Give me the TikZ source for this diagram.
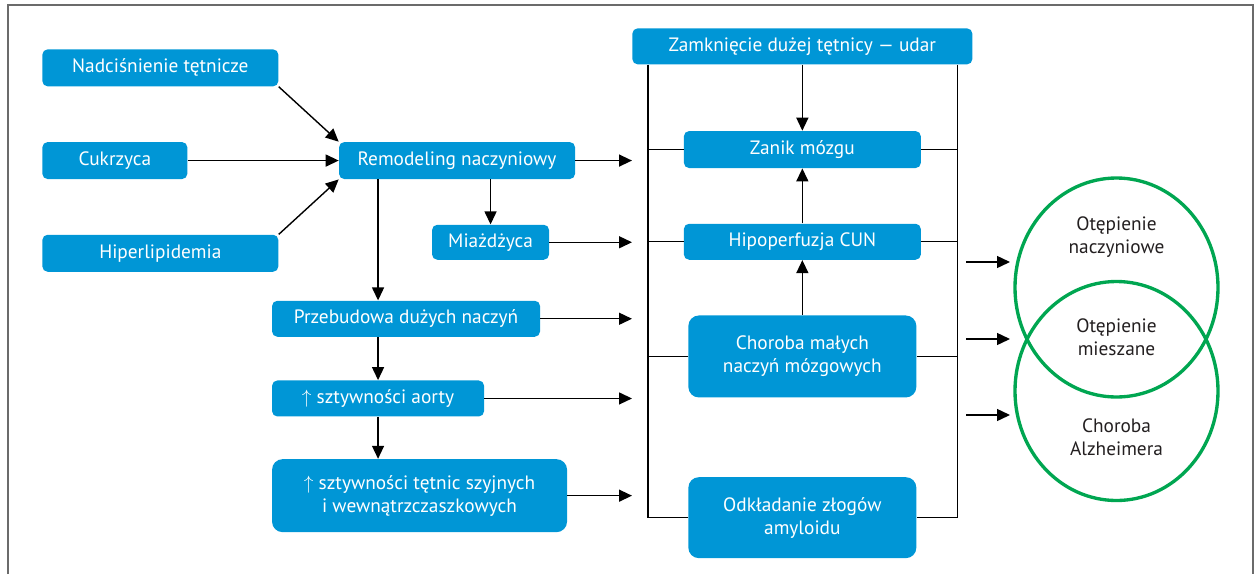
\documentclass[tikz,border=0pt]{standalone}
\usepackage{fontspec}
\setmainfont{PT Sans}
\usepackage{xcolor}
\usepackage{tikz}
\usetikzlibrary{positioning,arrows.meta,shapes.geometric}
\definecolor{BoxBlue}{HTML}{0096D6}
\definecolor{RingGreen}{HTML}{00A651}
\definecolor{InkDark}{HTML}{231F20}
\definecolor{FrameGray}{HTML}{6B6B6B}

\begin{document}
\begin{tikzpicture}[>={Triangle[length=0.26cm,width=0.24cm]},
  every node/.style={font=\fontsize{11}{13}\selectfont},
  box/.style={fill=BoxBlue,text=white,rounded corners=3pt,minimum height=0.74cm,inner sep=2pt,align=center},
  bigbox/.style={box,rounded corners=6pt},
  ring/.style={draw=RingGreen,line width=1.9pt,ellipse,inner sep=0pt,minimum width=4.06cm,minimum height=4.38cm},
  ringtext/.style={text=InkDark,align=center}]
  \useasboundingbox (0,0) rectangle (25.1,-11.48);
  \draw[FrameGray,line width=1.1pt] (0.16,-11.48) |- (25.06,-0.10) -- (25.06,-11.48);
  % causes
  \node[box,minimum width=4.72cm,anchor=north west] (nad) at (0.84,-0.98) {Nadciśnienie tętnicze};
  \node[box,minimum width=2.90cm,below=1.10cm of nad.south west,anchor=north west] (cuk) {Cukrzyca};
  \node[box,minimum width=4.72cm,below=1.10cm of cuk.south west,anchor=north west] (hip) {Hiperlipidemia};
  \node[box,minimum width=4.72cm,right=3.02cm of cuk] (rem) {Remodeling naczyniowy};
  \node[box,minimum width=2.34cm,minimum height=0.70cm,below=0.90cm of rem,xshift=0.67cm] (mia) {Miażdżyca};
  \node[box,minimum width=5.36cm,minimum height=0.72cm,below=2.42cm of rem.south west,anchor=north west,xshift=-1.34cm] (prz) {Przebudowa dużych naczyń};
  \node[box,minimum width=4.24cm,minimum height=0.72cm,below=0.86cm of prz.south west,anchor=north west] (aor) {$\uparrow$ sztywności aorty};
  \node[bigbox,minimum width=5.90cm,minimum height=1.46cm,below=0.84cm of aor.south west,anchor=north west] (tet) {$\uparrow$ sztywności tętnic szyjnych\\i wewnątrzczaszkowych};
  % brain
  \node[box,minimum width=6.80cm,minimum height=0.72cm,anchor=north west] (zam) at (12.64,-0.56) {Zamknięcie dużej tętnicy --- udar};
  \node[box,minimum width=4.74cm,below=1.32cm of zam] (zan) {Zanik mózgu};
  \node[box,minimum width=4.74cm,minimum height=0.72cm,below=1.10cm of zan] (hpf) {Hipoperfuzja CUN};
  \node[bigbox,minimum width=4.56cm,minimum height=1.64cm,below=1.10cm of hpf] (cho) {Choroba małych\\naczyń mózgowych};
  \node[bigbox,minimum width=4.56cm,minimum height=1.62cm,below=1.58cm of cho] (odk) {Odkładanie złogów\\amyloidu};
  % dementia
  \node[ring] (vasc) at (22.33,-5.75) {};
  \node[ring] (alz) at (22.33,-7.82) {};
  \node[ringtext] (lvasc) at (22.33,-4.74) {Otępienie\\naczyniowe};
  \node[ringtext] (lmix) at (22.33,-6.74) {Otępienie\\mieszane};
  \node[ringtext] (lalz) at (22.33,-8.74) {Choroba\\Alzheimera};

  \draw[->,thick] (nad.south east) -- (rem.north west);
  \draw[->,thick] (cuk) -- (rem);
  \draw[->,thick] (hip.north east) -- (rem.south west);
  \draw[->,thick] (mia |- rem.south) -- (mia.north);
  \draw[->,thick] (aor |- rem.south) -- (aor |- prz.north);
  \draw[->,thick] (aor |- prz.south) -- (aor.north);
  \draw[->,thick] (aor.south) -- (aor |- tet.north);
  \foreach \n in {rem,mia,prz,aor,tet}
    \draw[->,thick] (\n.east) -- (\n.east -| zam.west);

  \coordinate (bl) at ([xshift=0.32cm]zam.south west);
  \coordinate (br) at ([xshift=-0.30cm]zam.south east);
  \draw[thick] (bl) |- (odk.west);
  \draw[thick] (br) |- (odk.east);
  \foreach \n in {zan,hpf,cho} {
    \draw[thick] (\n.west) -- (\n.west -| bl);
    \draw[thick] (\n.east) -- (\n.east -| br);
  }
  \draw[->,thick] (zan |- zam.south) -- (zan.north);
  \draw[->,thick] (hpf.north) -- (zan.south);
  \draw[->,thick] (cho.north) -- (hpf.south);

  \foreach \y [count=\i] in {-5.24,-6.78,-8.30} {
    \coordinate (out\i) at (19.32,\y);
    \draw[->,thick] (out\i) -- ++(0.88,0);
  }
\end{tikzpicture}
\end{document}
